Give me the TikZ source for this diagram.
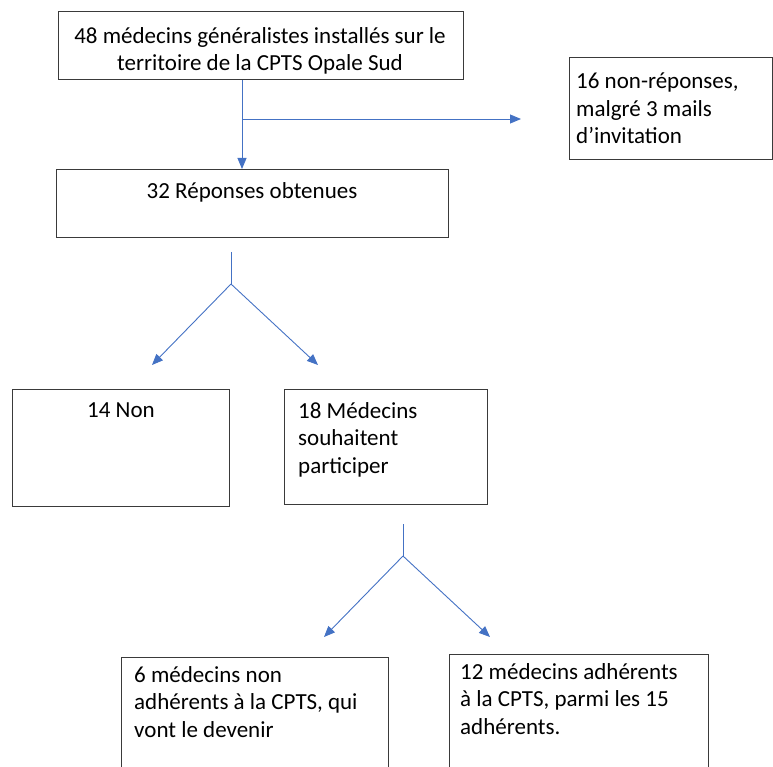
\documentclass[tikz,border=0pt]{standalone}
\usepackage{fontspec}
\setmainfont{Carlito}
\usetikzlibrary{arrows.meta}
\definecolor{conblue}{HTML}{4472C4}
\definecolor{boxline}{HTML}{3A3A3A}
\tikzset{
  box/.style={draw=boxline, line width=1.1pt, fill=none, inner sep=0pt},
  txt/.style={inner sep=0pt, font=\fontsize{23}{27.5}\selectfont, text=black},
  conn/.style={draw=conblue, line width=0.9pt},
  arr/.style={conn, -{Triangle[length=11pt, width=9pt]}}
}
\begin{document}
\begin{tikzpicture}[x=1pt, y=-1pt]
\useasboundingbox (0,0) rectangle (773,767);
\clip (0,0) rectangle (773,767);
% boxes
\node[box, anchor=north west, minimum width=405pt, minimum height=68pt] (top) at (58,11) {};
\node[box, anchor=north west, minimum width=203pt, minimum height=102pt] (nr) at (569,57) {};
\node[box, anchor=north west, minimum width=392pt, minimum height=68pt] (rep) at (56,169) {};
\node[box, anchor=north west, minimum width=217pt, minimum height=117pt] (non) at (12,389) {};
\node[box, anchor=north west, minimum width=203pt, minimum height=115pt] (oui) at (284,389) {};
\node[box, anchor=north west, minimum width=267pt, minimum height=130pt] (fut) at (121,657) {};
\node[box, anchor=north west, minimum width=259pt, minimum height=130pt] (adh) at (449,654) {};
% texts (anchor = baseline of the last line)
\node[txt, anchor=base, align=center] (ttop) at (260,71) {48 médecins généralistes installés sur le\\territoire de la CPTS Opale Sud};
\node[txt, anchor=base west, align=left] (tnr) at (576,144) {16 non-réponses,\\malgré 3 mails\\d’invitation};
\node[txt, anchor=base] (trep) at (252,199) {32 Réponses obtenues};
\node[txt, anchor=base] (tnon) at (121,417) {14 Non};
\node[txt, anchor=base west, align=left] (toui) at (298,473) {18 Médecins\\souhaitent\\participer};
\node[txt, anchor=base west, align=left] (tfut) at (134,737) {6 médecins non\\adhérents à la CPTS, qui\\vont le devenir};
\node[txt, anchor=base west, align=left] (tadh) at (460,734) {12 médecins adhérents\\à la CPTS, parmi les 15\\adhérents.};
% connectors
\coordinate (j1) at (242,119);
\coordinate (t1) at (521,119);
\draw[arr] (top.south -| j1) -- (rep.north -| j1);
\draw[arr] (j1) -- (t1);
\coordinate (s1) at (231,252);
\coordinate (f1) at (231,284);
\coordinate (a1) at (152,365);
\coordinate (b1) at (318,365);
\draw[conn] (s1) -- (f1);
\draw[arr] (f1) -- (a1);
\draw[arr] (f1) -- (b1);
\coordinate (s2) at (403,524);
\coordinate (f2) at (403,556);
\coordinate (a2) at (324,637);
\coordinate (b2) at (490,637);
\draw[conn] (s2) -- (f2);
\draw[arr] (f2) -- (a2);
\draw[arr] (f2) -- (b2);
\end{tikzpicture}
\end{document}
